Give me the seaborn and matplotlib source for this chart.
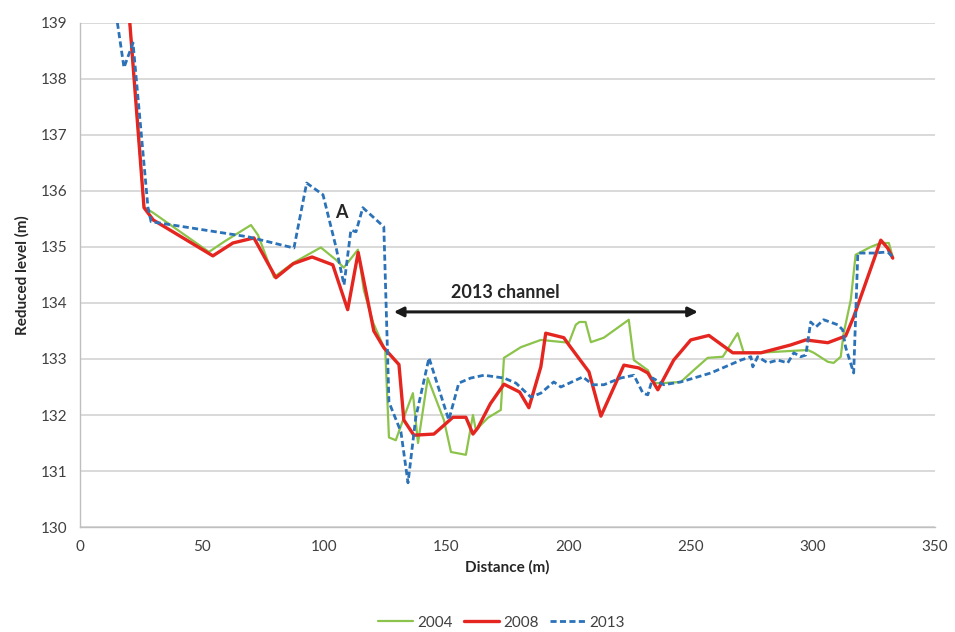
import matplotlib
matplotlib.use("Agg")
import matplotlib.pyplot as plt
import seaborn as sns
import pandas as pd

# ---- data ----
x_2004 = [19.5, 26.2, 29.9, 52.8, 58.9, 70.0, 72.9, 79.4, 87.5, 98.6, 104.8, 108.0, 113.8, 116.2,
          120.0, 125.0, 126.5, 129.3, 133.4, 136.3, 138.4, 142.4, 149.0, 151.9, 158.0, 160.9,
          162.1, 167.0, 172.3, 173.6, 180.5, 188.7, 200.2, 203.0, 204.5, 207.0, 209.2, 214.5,
          224.7, 226.8, 232.5, 235.0, 239.0, 246.0, 251.3, 257.0, 263.2, 269.3, 271.8, 277.5,
          298.0, 300.5, 306.2, 308.6, 311.5, 312.7, 315.6, 317.6, 323.8, 327.9, 331.2, 332.8]
y_2004 = [139.5, 135.71, 135.61, 134.91, 135.09, 135.39, 135.21, 134.46, 134.72, 134.99, 134.77,
          134.63, 134.95, 134.23, 133.65, 133.15, 131.60, 131.55, 132.05, 132.39, 131.50, 132.66,
          131.91, 131.34, 131.29, 132.00, 131.73, 131.95, 132.09, 133.02, 133.21, 133.34, 133.29,
          133.61, 133.66, 133.66, 133.30, 133.38, 133.70, 132.98, 132.80, 132.57, 132.57, 132.59,
          132.80, 133.02, 133.04, 133.46, 133.11, 133.11, 133.16, 133.11, 132.95, 132.93, 133.04,
          133.46, 134.05, 134.86, 135.00, 135.07, 135.07, 134.82]

x_2008 = [19.5, 26.2, 30.0, 54.4, 62.6, 71.2, 80.2, 87.3, 95.0, 103.5, 109.6, 113.9, 120.3, 124.4,
          130.6, 132.6, 136.7, 144.9, 147.8, 152.7, 158.0, 160.9, 162.9, 168.0, 173.6, 180.0,
          183.8, 188.7, 190.7, 198.1, 200.2, 208.4, 213.3, 222.7, 228.8, 232.5, 236.6, 243.1,
          250.1, 257.5, 267.3, 278.8, 291.0, 297.2, 306.2, 313.5, 316.8, 327.9, 330.7, 332.8]
y_2008 = [139.5, 135.70, 135.48, 134.84, 135.07, 135.16, 134.45, 134.70, 134.82, 134.68, 133.88,
          134.90, 133.50, 133.20, 132.90, 131.91, 131.64, 131.66, 131.77, 131.96, 131.96, 131.66,
          131.77, 132.20, 132.55, 132.41, 132.13, 132.86, 133.46, 133.38, 133.25, 132.77, 131.98,
          132.89, 132.84, 132.75, 132.45, 132.98, 133.34, 133.42, 133.11, 133.11, 133.25, 133.34,
          133.29, 133.41, 133.75, 135.12, 134.98, 134.80]

x_2013 = [15.3, 18.0, 21.7, 27.8, 29.1, 68.8, 87.6, 92.8, 99.5, 104.8, 108.1, 110.9, 113.0, 115.8,
          124.4, 126.5, 131.4, 134.3, 137.5, 142.9, 151.0, 155.1, 160.0, 165.4, 173.6, 178.5,
          184.6, 188.7, 194.0, 196.9, 205.9, 210.0, 214.5, 221.4, 226.8, 230.5, 232.5, 234.5,
          239.0, 246.0, 258.3, 270.6, 274.7, 275.5, 277.5, 281.6, 285.7, 289.8, 292.3, 295.1,
          297.2, 299.2, 301.3, 304.5, 310.3, 312.3, 313.5, 316.8, 318.5, 325.0, 330.7, 332.8]
y_2013 = [139.0, 138.20, 138.64, 135.71, 135.45, 135.18, 134.98, 136.14, 135.93, 135.00, 134.32,
          135.30, 135.27, 135.70, 135.36, 132.23, 131.70, 130.79, 131.96, 133.02, 131.91, 132.57,
          132.66, 132.71, 132.66, 132.57, 132.32, 132.39, 132.59, 132.50, 132.68, 132.54, 132.54,
          132.66, 132.71, 132.39, 132.36, 132.66, 132.54, 132.59, 132.75, 132.98, 133.04, 132.86,
          133.04, 132.93, 132.98, 132.93, 133.11, 133.04, 133.07, 133.66, 133.57, 133.70, 133.61,
          133.52, 133.21, 132.75, 134.89, 134.89, 134.91, 134.82]

x_ticks = [0, 50, 100, 150, 200, 250, 300, 350]
y_ticks = [130, 131, 132, 133, 134, 135, 136, 137, 138, 139]

series = {"2004": (x_2004, y_2004), "2008": (x_2008, y_2008), "2013": (x_2013, y_2013)}
colors = {"2004": "#8CC34A", "2008": "#E5251F", "2013": "#2B72B8"}
widths = {"2004": 1.6, "2008": 2.4, "2013": 2.0}
dash = {"2004": "-", "2008": "-", "2013": (0, (2.2, 1.2))}

# ---- plot ----
sns.set_theme(style="white")
plt.rcParams["font.family"] = ["Lato", "DejaVu Sans"]

fig = plt.figure(figsize=(9.55, 6.32), dpi=100)
ax = fig.add_axes([0.0838, 0.166, 0.895, 0.798])

for name, (xs, ys) in series.items():
    df = pd.DataFrame({"Distance": xs, "Level": ys})
    sns.lineplot(data=df, x="Distance", y="Level", sort=False, estimator=None,
                 color=colors[name], linewidth=widths[name], linestyle=dash[name],
                 ax=ax, label=name)

ax.set_xlim(0, 350)
ax.set_ylim(130, 139)
ax.set_xticks(x_ticks)
ax.set_yticks(y_ticks)
ax.yaxis.grid(True, color="#D0D0D0", linewidth=1.1)
ax.xaxis.grid(False)
for s in ["top", "right"]:
    ax.spines[s].set_visible(False)
for s in ["left", "bottom"]:
    ax.spines[s].set_color("#BFBFBF")
    ax.spines[s].set_linewidth(1.0)
ax.tick_params(axis="both", which="both", direction="out", length=5, width=1,
               color="#BFBFBF", labelsize=11, labelcolor="#404040", pad=4)

ax.set_xlabel("Distance (m)", fontsize=11, fontweight="bold", color="#262626", labelpad=5)
ax.set_ylabel("Reduced level (m)", fontsize=11, fontweight="bold", color="#262626", labelpad=8)

ax.text(107, 135.62, "A", fontsize=13, fontweight="bold", color="#262626",
        ha="center", va="center")
ax.text(174, 134.18, "2013 channel", fontsize=13, fontweight="bold", color="#262626",
        ha="center", va="center")
ax.annotate("", xy=(128.5, 133.84), xytext=(253, 133.84),
            arrowprops=dict(arrowstyle="<|-|>", color="#1A1A1A", lw=2.2,
                            mutation_scale=14, shrinkA=0, shrinkB=0))

h, l = ax.get_legend_handles_labels()
ax.get_legend().remove()
fig.legend(h, l, loc="lower center", bbox_to_anchor=(0.525, -0.018), ncol=3,
           frameon=False, fontsize=11, handlelength=2.3, handletextpad=0.3,
           columnspacing=0.7, labelcolor="#404040")

fig.savefig("out.png", dpi=100)
